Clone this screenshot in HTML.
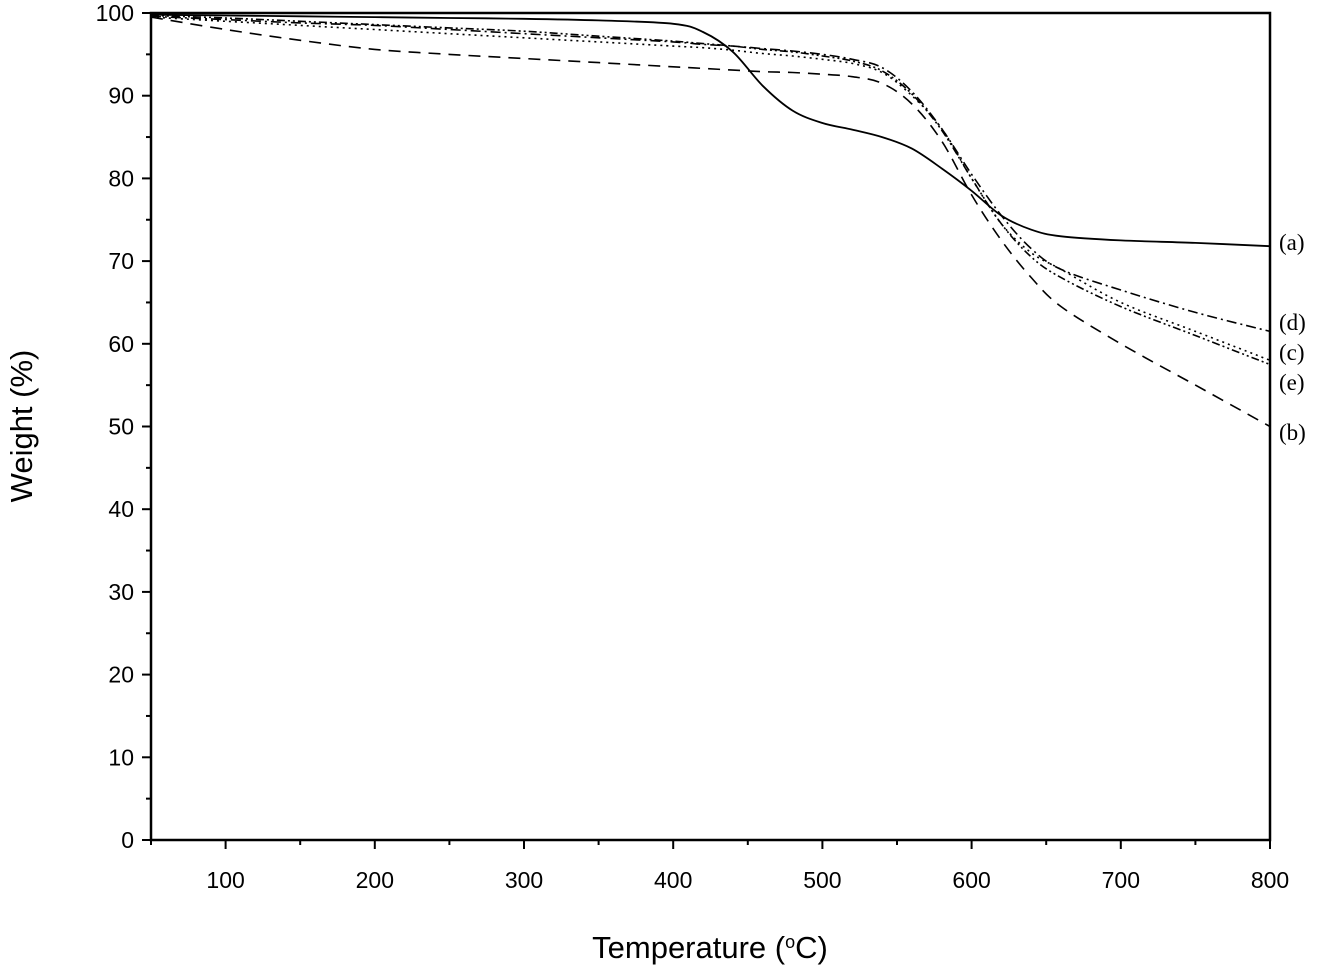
<!DOCTYPE html>
<html><head><meta charset="utf-8"><style>
body{margin:0;background:#fff;}
svg text{font-family:"Liberation Sans",sans-serif;fill:#000;}
.lbl{font-family:"Liberation Serif",serif;font-size:23px;}
</style></head><body>
<svg id="chart" width="1323" height="975" xmlns="http://www.w3.org/2000/svg">
<g id="axes"></g><g id="series"></g>
</svg>
<script>
const temps=[50,100,150,200,250,300,350,400,420,440,460,480,500,520,540,560,580,600,620,640,660,700,750,800];
const seriesA=[99.8,99.7,99.6,99.5,99.4,99.3,99.1,98.7,97.7,95.3,91.2,88.2,86.7,85.9,85,83.6,81.2,78.5,75.5,73.8,73,72.5,72.2,71.8];
const seriesB=[99.5,98,96.7,95.6,95,94.5,94,93.5,93.3,93.1,92.9,92.8,92.6,92.3,91.5,89,84.5,78,72.5,68,64.5,60,55,50];
const seriesC=[99.5,99,98.5,98,97.5,97,96.5,96,95.8,95.5,95.1,94.8,94.4,93.9,92.8,90,86,80,74.5,71,69,65,61.5,58];
const seriesD=[99.6,99.2,98.8,98.5,98,97.5,97,96.5,96.2,96,95.7,95.4,95,94.4,93.4,90.5,86,80.5,75.5,71.5,69,66.5,63.8,61.5];
const seriesE=[99.7,99.4,99,98.6,98.2,97.8,97.2,96.6,96.3,96,95.6,95.3,94.8,94.2,93,90.2,85.8,80,74.5,70.5,68,64.5,61,57.5];
const xTicks=[100,200,300,400,500,600,700,800];
const yTicks=[0,10,20,30,40,50,60,70,80,90,100];
const seriesNames=["(a)","(b)","(c)","(d)","(e)"];
const NS="http://www.w3.org/2000/svg";
const L=151,R=1270,T=13,B=840;
const xs=t=>L+(t-50)/750*(R-L);
const ys=w=>B-w/100*(B-T);
function mk(tag,attrs,parent){const e=document.createElementNS(NS,tag);for(const k in attrs)e.setAttribute(k,attrs[k]);parent.appendChild(e);return e;}
const ax=document.getElementById('axes'),sg=document.getElementById('series');
const frame=mk('rect',{x:L,y:T,width:R-L,height:B-T,fill:'none',stroke:'#000','stroke-width':2.5},ax);


for(let t=50;t<=800;t+=50){const major=t%100===0;
 const tk=mk('line',{x1:xs(t),x2:xs(t),y1:B,y2:B+(major?9:5),stroke:'#000','stroke-width':2},ax);
 
 }
xTicks.forEach(t=>{const tx=mk('text',{x:xs(t),y:B+48,'text-anchor':'middle','font-size':23},ax);tx.textContent=t;
 
 });
for(let w=0;w<=100;w+=5){const major=w%10===0;
 const tk=mk('line',{x1:L-(major?9:5),x2:L,y1:ys(w),y2:ys(w),stroke:'#000','stroke-width':2},ax);
 
 }
yTicks.forEach(w=>{const tx=mk('text',{x:L-17,y:ys(w)+8,'text-anchor':'end','font-size':23},ax);tx.textContent=w;
 
 });
const xt=mk('text',{x:710,y:958,'text-anchor':'middle','font-size':31},ax);
xt.innerHTML='Temperature (<tspan baseline-shift="super" font-size="18">o</tspan>C)';


const yt=mk('text',{x:0,y:0,'text-anchor':'middle','font-size':31,transform:'translate(32,426) rotate(-90)'},ax);
yt.textContent='Weight (%)';


function smooth(pts){let d='M'+pts[0][0].toFixed(1)+','+pts[0][1].toFixed(1);
 for(let i=0;i<pts.length-1;i++){const p0=pts[Math.max(0,i-1)],p1=pts[i],p2=pts[i+1],p3=pts[Math.min(pts.length-1,i+2)];
  const c1=[p1[0]+(p2[0]-p0[0])/6,p1[1]+(p2[1]-p0[1])/6],c2=[p2[0]-(p3[0]-p1[0])/6,p2[1]-(p3[1]-p1[1])/6];
  d+='C'+c1[0].toFixed(1)+','+c1[1].toFixed(1)+' '+c2[0].toFixed(1)+','+c2[1].toFixed(1)+' '+p2[0].toFixed(1)+','+p2[1].toFixed(1);}
 return d;}
const all=[seriesA,seriesB,seriesC,seriesD,seriesE];
const dashes=['none','12,8','2,4','10,4,2,4','8,3,2,3,2,3'];
all.forEach((s,i)=>{const d=smooth(s.map((w,j)=>[xs(temps[j]),ys(w)]));
 const p=mk('path',{d:d,fill:'none',stroke:'#000','stroke-width':i===0?1.8:1.6,'stroke-dasharray':dashes[i]},sg);
 
 });
const labelY=[242,432,352,322,382];
seriesNames.forEach((n,i)=>{const t=mk('text',{x:1279,y:labelY[i]+8,'class':'lbl'},ax);t.textContent=n;
 
 });
</script>
</body></html>
